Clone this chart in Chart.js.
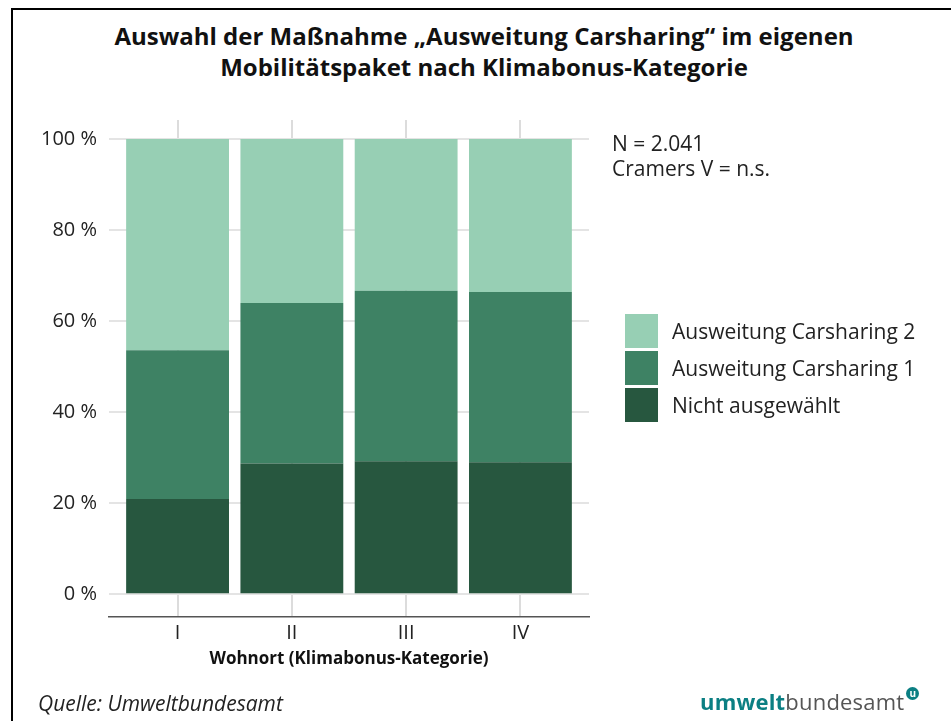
<!DOCTYPE html>
<html lang="de">
<head>
<meta charset="utf-8">
<script src="https://cdn.jsdelivr.net/npm/chart.js@4"></script>
<style>
  html, body { margin: 0; padding: 0; background: #fff; }
  body { width: 951px; height: 721px; position: relative; overflow: hidden; font-family: "Open Sans", sans-serif; color: #1a1a1a; }
  #frame { position: absolute; left: 11px; top: 8px; right: -5px; bottom: -5px; border-top: 2px solid #000; border-left: 2px solid #000; }
  #title { position: absolute; left: 0; top: 20px; width: 968px; text-align: center; font-weight: 700; font-size: 24px; line-height: 31px; color: #111; }
  #wrap { position: absolute; left: 0; top: 0; width: 951px; height: 721px; }
  #note { position: absolute; left: 612px; top: 131px; font-size: 21px; line-height: 25px; color: #222; }
  #legend { position: absolute; left: 625px; top: 312px; }
  .item { display: flex; align-items: center; height: 37px; font-size: 21px; color: #222; }
  .box { width: 33px; height: 34px; margin-right: 14px; }
  #source { position: absolute; left: 38px; top: 689px; font-style: italic; font-size: 21px; color: #222; }
  #logo { position: absolute; left: 700px; top: 686px; font-size: 22px; color: #555; letter-spacing: 0.2px; }
  #logo b { color: #0b7f83; font-weight: 700; }
  #logo .u { display: inline-block; width: 13px; height: 13px; border-radius: 50%; background: #0b7f83; color: #fff; font-size: 10px; line-height: 12px; text-align: center; font-weight: 700; vertical-align: 13px; margin-left: 2px; }
</style>
</head>
<body>
<div id="frame"></div>
<div id="title">Auswahl der Maßnahme „Ausweitung Carsharing“ im eigenen<br>Mobilitätspaket nach Klimabonus-Kategorie</div>
<div id="wrap"><canvas id="chart" width="951" height="721"></canvas></div>
<div id="note">N = 2.041<br>Cramers V = n.s.</div>
<div id="legend"></div>
<div id="source">Quelle: Umweltbundesamt</div>
<div id="logo"><b>umwelt</b>bundesamt<span class="u">u</span></div>
<script>
const categories = ['I', 'II', 'III', 'IV'];
const nichtAusgewaehlt = [20.9, 28.7, 29.2, 29.0];
const carsharing1 = [32.7, 35.3, 37.5, 37.4];
const carsharing2 = [46.4, 36.0, 33.3, 33.6];
const yTicks = [0, 20, 40, 60, 80, 100];

const series = [
    { label: 'Nicht ausgewählt', data: nichtAusgewaehlt, color: '#27573f' },
    { label: 'Ausweitung Carsharing 1', data: carsharing1, color: '#3e8264' },
    { label: 'Ausweitung Carsharing 2', data: carsharing2, color: '#97cfb4' }
];

// legend (top item = last series)
const legendEl = document.getElementById('legend');
series.slice().reverse().forEach(s => {
    const row = document.createElement('div');
    row.className = 'item';
    row.innerHTML = '<span class="box" style="background:' + s.color + '"></span>' + s.label;
    legendEl.appendChild(row);
});

const ctx = document.getElementById('chart').getContext('2d');
new Chart(ctx, {
    type: 'bar',
    data: {
        datasets: series.map(s => ({
            label: s.label,
            data: s.data.map((v, i) => ({ x: i, y: v })),
            backgroundColor: s.color,
            borderWidth: 0,
            barPercentage: 0.9,
            categoryPercentage: 1
        }))
    },
    options: {
        responsive: false,
        animation: false,
        layout: { padding: { left: 0, top: 120, right: 362, bottom: 52 } },
        plugins: {
            legend: { display: false },
            tooltip: { enabled: false }
        },
        scales: {
            x: {
                type: 'linear',
                stacked: true,
                offset: false,
                min: -0.6,
                max: 3.6,
                afterBuildTicks: axis => { axis.ticks = categories.map((c, i) => ({ value: i })); },
                afterFit: axis => { axis.height = 52; },
                ticks: {
                    callback: v => categories[v],
                    color: '#222',
                    font: { family: 'Open Sans', size: 20 },
                    padding: 4
                },
                grid: { offset: false, color: '#dcdcdc', lineWidth: 2, drawTicks: false },
                border: { display: true, color: '#555', width: 1.5 },
                title: {
                    display: true,
                    text: 'Wohnort (Klimabonus-Kategorie)',
                    color: '#111',
                    font: { family: 'Open Sans', size: 17, weight: 'bold' },
                    padding: { top: 0, bottom: 0 }
                }
            },
            y: {
                stacked: true,
                min: -5,
                max: 104.2,
                afterBuildTicks: axis => { axis.ticks = yTicks.map(v => ({ value: v })); },
                afterFit: axis => { axis.width = 109; },
                ticks: {
                    callback: v => v + ' %',
                    color: '#222',
                    font: { family: 'Open Sans', size: 20 },
                    padding: 12
                },
                grid: { color: '#e4e4e4', lineWidth: 2, drawTicks: false },
                border: { display: false }
            }
        }
    }
});
</script>
</body>
</html>
